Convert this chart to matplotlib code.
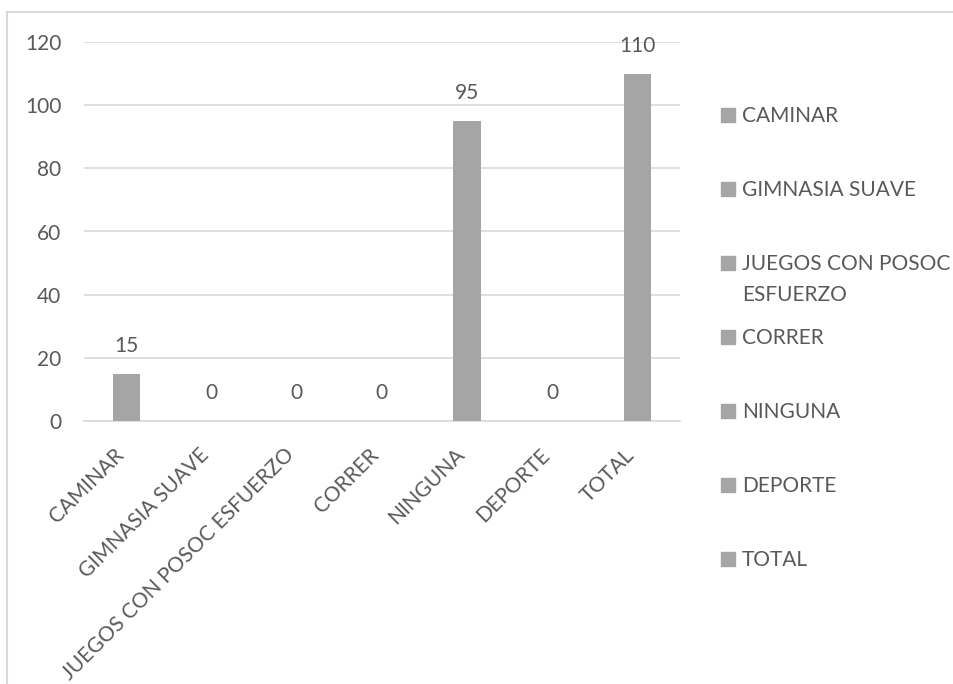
import matplotlib.pyplot as plt
from matplotlib.patches import Rectangle
import numpy as np

categories = ['CAMINAR', 'GIMNASIA SUAVE', 'JUEGOS CON POSOC ESFUERZO', 'CORRER',
              'NINGUNA', 'DEPORTE', 'TOTAL']
legend_labels = [['CAMINAR'], ['GIMNASIA SUAVE'], ['JUEGOS CON POSOC', 'ESFUERZO'],
                 ['CORRER'], ['NINGUNA'], ['DEPORTE'], ['TOTAL']]
values = [15, 0, 0, 0, 95, 0, 110]
y_ticks = [0, 20, 40, 60, 80, 100, 120]

plt.rcParams['font.family'] = ['Lato', 'DejaVu Sans']
text_color = '#595959'
bar_color = '#a5a5a5'
grid_color = '#d9d9d9'
fs = 15

W, H = 954, 684
fig = plt.figure(figsize=(W / 100, H / 100), dpi=100)
ax = fig.add_axes([83.7 / W, 1 - 421 / H, (680 - 83.7) / W, (421 - 42) / H])

x = np.arange(len(categories))
bars = ax.bar(x, values, width=0.32, color=bar_color, zorder=3)
ax.bar_label(bars, labels=[str(v) for v in values], padding=13,
             fontsize=fs, color=text_color)

ax.set_xlim(-0.5, len(categories) - 0.5)
ax.set_ylim(0, 120)
ax.set_yticks(y_ticks)
ax.set_yticklabels([str(t) for t in y_ticks], fontsize=fs, color=text_color)
ax.tick_params(axis='y', length=0, pad=16)
ax.yaxis.grid(True, color=grid_color, linewidth=1.2, zorder=0)

ax.set_xticks(x - 0.07)
ax.set_xticklabels(categories, fontsize=fs, color=text_color, rotation=45,
                   ha='right', va='center', rotation_mode='anchor')
ax.tick_params(axis='x', length=0, pad=22)

for s in ['top', 'right', 'left']:
    ax.spines[s].set_visible(False)
ax.spines['bottom'].set_color(grid_color)
ax.spines['bottom'].set_linewidth(1.2)

# legend, one entry per category
for i, lines in enumerate(legend_labels):
    cy = 115 + 74 * i
    fig.patches.append(Rectangle((721 / W, 1 - (cy + 7) / H), 14 / W, 14 / H,
                                 transform=fig.transFigure, color=bar_color))
    for j, line in enumerate(lines):
        fig.text(742 / W, 1 - (cy + 7.5 + 30 * j) / H, line, fontsize=fs,
                 color=text_color, va='baseline', ha='left')

# outer chart border (left and top visible)
fig.patches.append(Rectangle((7 / W, -0.1), 1.2, 1 - 12 / H + 0.1,
                             transform=fig.transFigure, fill=False,
                             edgecolor=grid_color, linewidth=1.5))

plt.savefig('out.png', dpi=100)
